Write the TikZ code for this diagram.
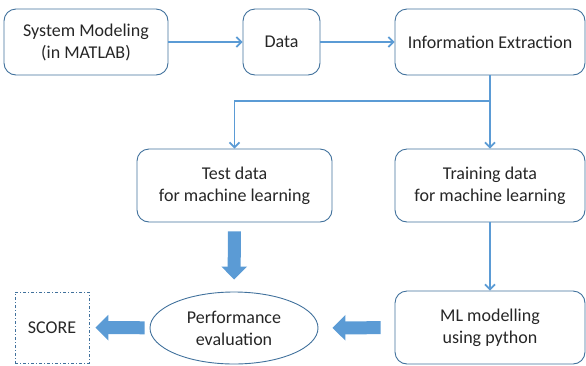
\documentclass[tikz,border=0pt]{standalone}
\usepackage{fontspec}
\setmainfont{Carlito}
\usepackage{tikz}
\usetikzlibrary{arrows.meta}
\usetikzlibrary{shapes.geometric}
\definecolor{boxline}{RGB}{65,113,156}
\definecolor{arrowblue}{RGB}{91,155,213}

\begin{document}
\begin{tikzpicture}[x=1pt, y=-1pt,
  box/.style={draw=boxline, line width=0.9pt, rounded corners=12pt, align=center, inner sep=0pt, text=black!85, font=\fontsize{18}{22}\selectfont},
  ovalnode/.style={ellipse, draw=boxline, line width=0.9pt, align=center, inner sep=0pt, text=black!85, font=\fontsize{18}{22}\selectfont, minimum width=168pt, minimum height=72pt},
  scorenode/.style={draw=boxline, line width=0.8pt, dash pattern=on 3pt off 2pt on 1pt off 2pt, inner sep=0pt, text=black!85, font=\fontsize{18}{22}\selectfont, minimum width=74pt, minimum height=71pt}]
\tikzset{link/.style = {draw=arrowblue, line width=1.8pt, -{Straight Barb[length=5pt, width=10pt]}}}
\tikzset{fat/.style = {draw=arrowblue, line width=13pt, -{Triangle[width=25pt, length=13pt]}}}
\useasboundingbox (0,0) rectangle (586,365);
\node[box, minimum width=164pt, minimum height=66pt] (sys) at (86,42) {System Modeling\\(in MATLAB)};
\node[box, minimum width=77pt, minimum height=66pt] (data) at (281.5,42) {Data};
\node[box, minimum width=190pt, minimum height=66pt] (info) at (490,42) {Information Extraction};
\node[box, minimum width=195pt, minimum height=73pt] (test) at (234.5,185.5) {Test data\\for machine learning};
\node[box, minimum width=190pt, minimum height=73pt] (train) at (490,185.5) {Training data\\for machine learning};
\node[box, minimum width=190pt, minimum height=73pt] (ml) at (490,327.5) {ML modelling\\using python};
\node[ovalnode] (perf) at (234,328) {Performance\\evaluation};
\node[scorenode] (score) at (52,327.5) {SCORE};
\coordinate (split) at (490,101);
\draw[link] (sys) -- (data);
\draw[link] (data) -- (info);
\draw[link] (info.south) -- (train.north);
\draw[link] (split) -| (test.north);
\draw[link] (train) -- (ml);
% block arrows
\draw[fat, shorten <=9pt, shorten >=12pt] (test) -- (perf);
\draw[fat, shorten <=14pt, shorten >=14pt] (ml) -- (perf);
\draw[fat, shorten <=5pt, shorten >=6pt] (perf) -- (score);
\end{tikzpicture}
\end{document}
